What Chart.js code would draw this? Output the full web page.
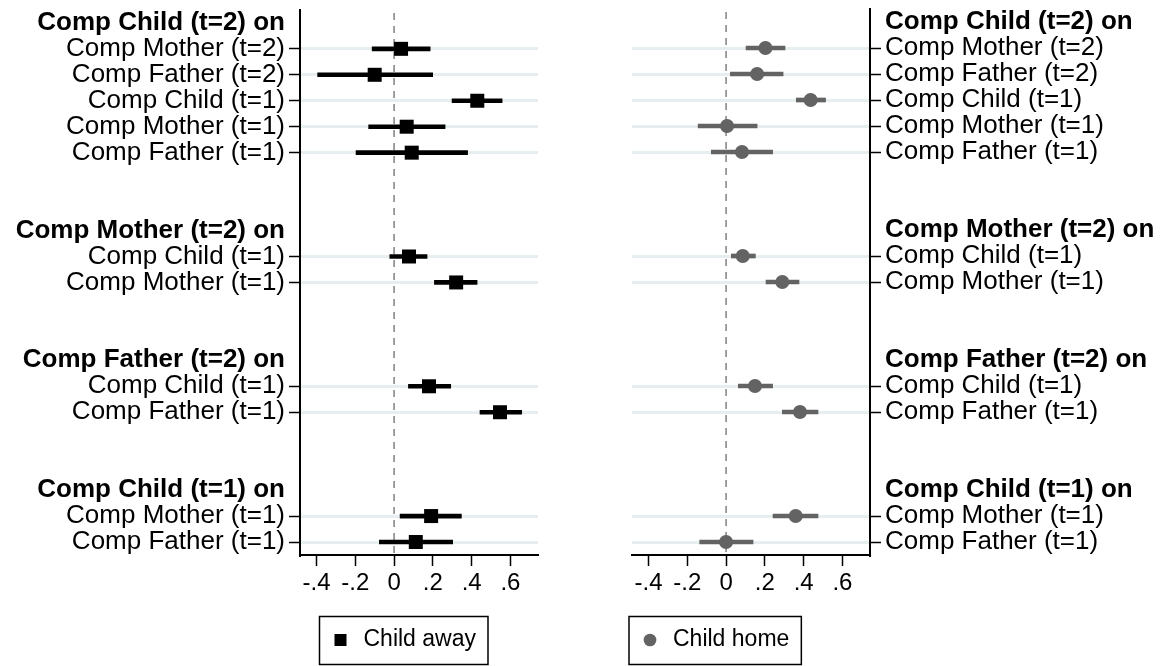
<!DOCTYPE html>
<html><head><meta charset="utf-8">
<script src="https://cdn.jsdelivr.net/npm/chart.js@4/dist/chart.umd.min.js"></script>
<style>
html,body{margin:0;padding:0;background:#fff;width:1171px;height:666px;overflow:hidden}
canvas{position:absolute;top:0}
#cL{left:0}
#cR{left:600px}
</style></head><body>
<canvas id="cL" width="560" height="666"></canvas>
<canvas id="cR" width="571" height="666"></canvas>
<script>
// ---- data ----
const categories = [
  'Comp Child (t=2) on', 'Comp Mother (t=2)', 'Comp Father (t=2)', 'Comp Child (t=1)', 'Comp Mother (t=1)', 'Comp Father (t=1)',
  '', '',
  'Comp Mother (t=2) on', 'Comp Child (t=1)', 'Comp Mother (t=1)',
  '', '',
  'Comp Father (t=2) on', 'Comp Child (t=1)', 'Comp Father (t=1)',
  '', '',
  'Comp Child (t=1) on', 'Comp Mother (t=1)', 'Comp Father (t=1)'
];
const awayEst = [null, 0.036, -0.100, 0.429, 0.065, 0.091, null, null, null, 0.077, 0.320, null, null, null, 0.180, 0.546, null, null, null, 0.191, 0.112];
const awayLo  = [null, -0.113, -0.394, 0.299, -0.131, -0.196, null, null, null, -0.022, 0.208, null, null, null, 0.074, 0.443, null, null, null, 0.031, -0.076];
const awayHi  = [null, 0.186, 0.199, 0.557, 0.263, 0.379, null, null, null, 0.170, 0.428, null, null, null, 0.292, 0.658, null, null, null, 0.347, 0.302];
const homeEst = [null, 0.203, 0.160, 0.436, 0.005, 0.082, null, null, null, 0.086, 0.290, null, null, null, 0.149, 0.381, null, null, null, 0.359, 0.000];
const homeLo  = [null, 0.103, 0.022, 0.362, -0.144, -0.076, null, null, null, 0.027, 0.206, null, null, null, 0.063, 0.290, null, null, null, 0.242, -0.136];
const homeHi  = [null, 0.304, 0.294, 0.513, 0.160, 0.240, null, null, null, 0.151, 0.376, null, null, null, 0.240, 0.474, null, null, null, 0.474, 0.139];
const xTicks = [-0.4, -0.2, 0, 0.2, 0.4, 0.6];
const xTickLabels = ['-.4', '-.2', '0', '.2', '.4', '.6'];
const seriesNames = ['Child away', 'Child home'];

// ---- helpers ----
const FAM = "'Liberation Sans', Arial, Helvetica, sans-serif";
const isHeader = i => / on$/.test(categories[i] || '');
const isRow = i => !!categories[i] && !isHeader(i);

function makeChart(canvas, cfg) {
  const ci = cfg.lo.map((l, i) => (l == null ? null : [l, cfg.hi[i]]));
  const legendPlug = {
    id: 'legendPlace',
    afterLayout(chart) {
      const lg = chart.legend;
      const w = lg.width;
      lg.left = cfg.legendX - 10;
      lg.right = lg.left + w;
      const dy = 618.5 - lg.top;
      lg.top += dy;
      lg.bottom += dy;
    },
    afterDraw(chart) {
      const ctx = chart.ctx;
      ctx.save();
      ctx.font = '23px ' + FAM;
      const tw = ctx.measureText(cfg.name).width;
      ctx.strokeStyle = '#000';
      ctx.lineWidth = 1.5;
      const left = cfg.legendX - 9.5;
      const right = cfg.legendX + 23 + 11.5 + tw + 12;
      ctx.strokeRect(left, 616.5, right - left, 48);
      ctx.restore();
    }
  };
  const zeroPlug = {
    id: 'zeroLine',
    beforeDatasetsDraw(chart) {
      const ctx = chart.ctx, a = chart.chartArea;
      const x = chart.scales.x.getPixelForValue(0);
      ctx.save();
      ctx.strokeStyle = '#808080';
      ctx.lineWidth = 1.5;
      ctx.setLineDash([7, 6]);
      ctx.beginPath();
      ctx.moveTo(x, a.top + 3);
      ctx.lineTo(x, a.bottom);
      ctx.stroke();
      ctx.restore();
    }
  };
  return new Chart(canvas, {
    type: 'bar',
    data: {
      labels: categories,
      datasets: [
        { type: 'bar', label: 'CI', data: ci, backgroundColor: cfg.color, borderWidth: 0, barThickness: 4, order: 2, indexAxis: 'y' },
        { type: 'line', label: cfg.name, data: cfg.est, showLine: false, pointStyle: cfg.pointStyle, pointRadius: cfg.radius,
          pointHoverRadius: cfg.radius, pointBackgroundColor: cfg.color, pointBorderColor: cfg.color, pointBorderWidth: 0,
          backgroundColor: cfg.color, borderColor: cfg.color, borderWidth: 0, order: 1, indexAxis: 'y' }
      ]
    },
    options: {
      indexAxis: 'y',
      responsive: false,
      animation: false,
      devicePixelRatio: 1,
      events: [],
      layout: { padding: cfg.padding },
      plugins: {
        tooltip: { enabled: false },
        legend: {
          display: true,
          position: 'bottom',
          align: 'start',
          labels: {
            filter: item => item.datasetIndex === 1,
            usePointStyle: true,
            boxWidth: 23,
            boxHeight: cfg.legendBox,
            padding: 10,
            color: '#000',
            font: { family: FAM, size: 23 }
          }
        }
      },
      scales: {
        x: {
          type: 'linear',
          min: -0.485,
          max: 0.742,
          afterBuildTicks: s => { s.ticks = xTicks.map(v => ({ value: v })); },
          afterFit: s => { s.height = 50; s.paddingLeft = 0; s.paddingRight = 0; },
          ticks: {
            autoSkip: false,
            maxRotation: 0,
            padding: 3,
            color: '#000',
            font: { family: FAM, size: 24 },
            callback: (v, i) => xTickLabels[i]
          },
          grid: { drawOnChartArea: false, drawTicks: true, tickLength: 11, tickColor: '#000', tickWidth: 1.5 },
          border: { display: true, color: '#000', width: 2 }
        },
        y: {
          type: 'category',
          position: cfg.yPos,
          offset: true,
          afterFit: s => { s.width = cfg.yWidth; s.paddingTop = 0; s.paddingBottom = 0; },
          ticks: {
            autoSkip: false,
            padding: 4,
            color: '#000',
            font: c => ({ family: FAM, size: 26, weight: isHeader(c.index) ? 'bold' : 'normal' })
          },
          grid: {
            offset: false,
            drawTicks: true,
            tickLength: 11,
            lineWidth: 3,
            tickWidth: 1.5,
            color: c => (isRow(c.index) ? '#e6eef0' : 'rgba(0,0,0,0)'),
            tickColor: c => (isRow(c.index) ? '#000' : 'rgba(0,0,0,0)')
          },
          border: { display: true, color: '#000', width: 2 }
        }
      }
    },
    plugins: [zeroPlug, legendPlug]
  });
}

makeChart(document.getElementById('cL'), {
  name: seriesNames[0], est: awayEst, lo: awayLo, hi: awayHi, color: '#000000',
  pointStyle: 'rect', radius: 9.9, legendBox: 12,
  padding: { left: 0, right: 22, top: 9, bottom: 18 },
  yPos: 'left', yWidth: 300, legendX: 329
});
makeChart(document.getElementById('cR'), {
  name: seriesNames[1], est: homeEst, lo: homeLo, hi: homeHi, color: '#636363',
  pointStyle: 'circle', radius: 7, legendBox: 9,
  padding: { left: 32, right: 0, top: 9, bottom: 18 },
  yPos: 'right', yWidth: 301, legendX: 38.5
});
</script>
</body></html>
